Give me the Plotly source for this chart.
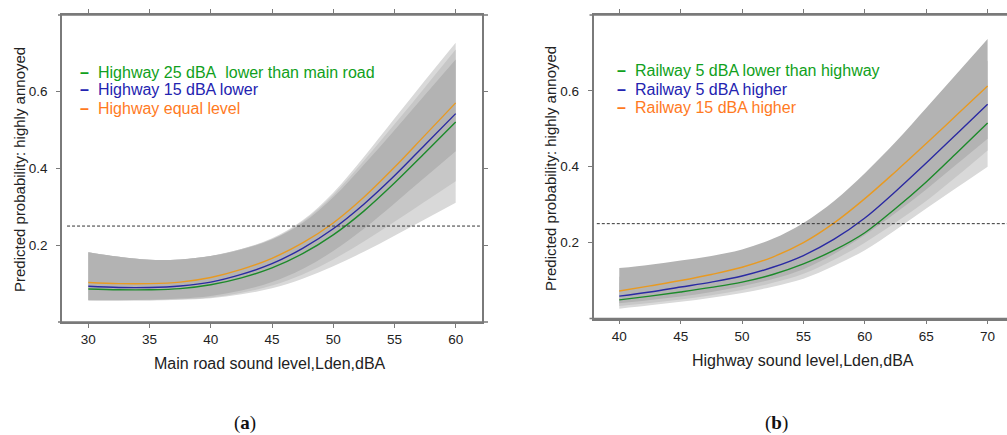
import plotly.graph_objects as go

W, H = 1007, 435

# ---------------- panel (a): main road level ----------------
x_a = [30, 32.5, 35, 37.5, 40, 42.5, 45, 47.5, 50, 52.5, 55, 57.5, 60]
a_equal = [0.103, 0.100, 0.100, 0.104, 0.116, 0.137, 0.166, 0.206, 0.258, 0.325, 0.403, 0.487, 0.571]
a_15lower = [0.093, 0.090, 0.090, 0.094, 0.104, 0.124, 0.152, 0.192, 0.243, 0.307, 0.381, 0.462, 0.543]
a_25lower = [0.086, 0.084, 0.084, 0.087, 0.097, 0.115, 0.141, 0.178, 0.227, 0.289, 0.362, 0.441, 0.521]

a_25lower_lo = [0.057, 0.056, 0.056, 0.058, 0.062, 0.072, 0.088, 0.113, 0.145, 0.183, 0.225, 0.268, 0.311]
a_25lower_hi = [0.182, 0.170, 0.162, 0.163, 0.172, 0.190, 0.218, 0.265, 0.337, 0.430, 0.530, 0.630, 0.728]
a_15lower_lo = [0.057, 0.057, 0.057, 0.059, 0.064, 0.076, 0.095, 0.124, 0.163, 0.210, 0.261, 0.314, 0.367]
a_15lower_hi = [0.182, 0.170, 0.162, 0.163, 0.172, 0.190, 0.216, 0.262, 0.331, 0.420, 0.515, 0.612, 0.710]
a_equal_lo = [0.057, 0.057, 0.058, 0.061, 0.068, 0.082, 0.104, 0.138, 0.185, 0.243, 0.309, 0.377, 0.445]
a_equal_hi = [0.182, 0.170, 0.162, 0.163, 0.172, 0.189, 0.215, 0.258, 0.325, 0.410, 0.500, 0.592, 0.684]

# ---------------- panel (b): highway level ----------------
x_b = [40, 42.5, 45, 47.5, 50, 52.5, 55, 57.5, 60, 62.5, 65, 67.5, 70]
b_rail15higher = [0.0725, 0.086, 0.100, 0.116, 0.135, 0.162, 0.200, 0.252, 0.316, 0.387, 0.461, 0.537, 0.613]
b_rail5higher = [0.059, 0.070, 0.083, 0.096, 0.112, 0.135, 0.166, 0.209, 0.265, 0.335, 0.410, 0.487, 0.565]
b_rail5lower = [0.049, 0.059, 0.070, 0.082, 0.096, 0.116, 0.144, 0.180, 0.226, 0.290, 0.360, 0.437, 0.515]

b_rail5lower_lo = [0.026, 0.035, 0.044, 0.055, 0.067, 0.084, 0.105, 0.139, 0.180, 0.233, 0.290, 0.345, 0.400]
b_rail5lower_hi = [0.095, 0.103, 0.110, 0.122, 0.138, 0.160, 0.192, 0.238, 0.295, 0.370, 0.455, 0.542, 0.630]
b_rail5higher_lo = [0.033, 0.041, 0.050, 0.061, 0.075, 0.094, 0.118, 0.155, 0.200, 0.253, 0.310, 0.375, 0.443]
b_rail5higher_hi = [0.110, 0.120, 0.130, 0.142, 0.158, 0.182, 0.218, 0.270, 0.335, 0.415, 0.500, 0.590, 0.680]
b_rail15higher_lo = [0.040, 0.049, 0.058, 0.070, 0.085, 0.104, 0.130, 0.170, 0.220, 0.278, 0.340, 0.407, 0.474]
b_rail15higher_hi = [0.133, 0.142, 0.153, 0.165, 0.182, 0.210, 0.252, 0.310, 0.383, 0.465, 0.555, 0.646, 0.737]

legend_a = ["Highway 25 dBA\u00a0\u00a0lower than main road", "Highway 15 dBA lower", "Highway equal level"]
legend_b = ["Railway 5 dBA lower than highway", "Railway 5 dBA higher", "Railway 15 dBA higher"]
threshold = 0.25

LINE_COLORS = ["#1c8a2a", "#2a2aa3", "#e89a22"]
TEXT_COLORS = ["#10a020", "#2323b0", "#ff7a1e"]
BAND_COLORS = ["#d9d9d9", "#c7c7c7", "#b3b3b3"]
AXIS_COLOR = "#7a7a7a"
FONT = "Liberation Sans, Arial, sans-serif"

fig = go.Figure()


def add_band(x, lo, hi, color, xa, ya):
    fig.add_trace(go.Scatter(x=x, y=lo, mode="lines", line=dict(width=0, shape="spline", color=color),
                             xaxis=xa, yaxis=ya, showlegend=False, hoverinfo="skip"))
    fig.add_trace(go.Scatter(x=x, y=hi, mode="lines", line=dict(width=0, shape="spline", color=color),
                             fill="tonexty", fillcolor=color, xaxis=xa, yaxis=ya,
                             showlegend=False, hoverinfo="skip"))


def add_line(x, y, color, xa, ya):
    fig.add_trace(go.Scatter(x=x, y=y, mode="lines", line=dict(width=1.4, shape="spline", color=color),
                             xaxis=xa, yaxis=ya, showlegend=False))


# bands: widest (lightest) underneath, narrowest (darkest) on top
add_band(x_a, a_25lower_lo, a_25lower_hi, BAND_COLORS[0], "x", "y")
add_band(x_a, a_15lower_lo, a_15lower_hi, BAND_COLORS[1], "x", "y")
add_band(x_a, a_equal_lo, a_equal_hi, BAND_COLORS[2], "x", "y")
add_line(x_a, a_equal, LINE_COLORS[2], "x", "y")
add_line(x_a, a_15lower, LINE_COLORS[1], "x", "y")
add_line(x_a, a_25lower, LINE_COLORS[0], "x", "y")

add_band(x_b, b_rail5lower_lo, b_rail5lower_hi, BAND_COLORS[0], "x2", "y2")
add_band(x_b, b_rail5higher_lo, b_rail5higher_hi, BAND_COLORS[1], "x2", "y2")
add_band(x_b, b_rail15higher_lo, b_rail15higher_hi, BAND_COLORS[2], "x2", "y2")
add_line(x_b, b_rail15higher, LINE_COLORS[2], "x2", "y2")
add_line(x_b, b_rail5higher, LINE_COLORS[1], "x2", "y2")
add_line(x_b, b_rail5lower, LINE_COLORS[0], "x2", "y2")


def px_x(p):
    return p / W


def px_y(p):
    return 1 - p / H


# plot areas in pixels
A_L, A_R, A_T, A_B = 62, 482, 15, 322
B_L, B_R, B_T, B_B = 593.5, 1007, 15, 318.5

axis_common = dict(showgrid=False, zeroline=False, showline=True, linecolor=AXIS_COLOR, linewidth=1.6,
                   ticks="outside", ticklen=4, tickwidth=1.2, tickcolor=AXIS_COLOR,
                   tickfont=dict(family=FONT, size=13.5, color="#222"))

fig.update_layout(
    width=W, height=H, margin=dict(l=0, r=0, t=0, b=0),
    paper_bgcolor="white", plot_bgcolor="white", showlegend=False,
    xaxis=dict(domain=[px_x(A_L), px_x(A_R)], range=[27.85, 62.15], tickvals=[30, 35, 40, 45, 50, 55, 60],
               mirror="ticks", anchor="y", **axis_common),
    yaxis=dict(domain=[px_y(A_B), px_y(A_T)], range=[0, 0.8], tickvals=[0.2, 0.4, 0.6],
               ticktext=["0.2", "0.4", "0.6"], mirror="ticks", anchor="x", ticklabelstandoff=6,
               **axis_common),
    xaxis2=dict(domain=[px_x(B_L), 1.0], range=[37.9, 71.58], tickvals=[40, 45, 50, 55, 60, 65, 70],
                mirror="ticks", anchor="y2", **axis_common),
    yaxis2=dict(domain=[px_y(B_B), px_y(B_T)], range=[0, 0.8], tickvals=[0.2, 0.4, 0.6],
                ticktext=["0.2", "0.4", "0.6"], mirror=False, anchor="x2", ticklabelstandoff=6,
                **axis_common),
)

shapes = []
# 0.25 reference line
shapes.append(dict(type="line", xref="x domain", yref="y", x0=0.012, x1=0.995, y0=threshold, y1=threshold,
                   line=dict(color="#333", width=1, dash="3px,2px")))
shapes.append(dict(type="line", xref="x2 domain", yref="y2", x0=0.008, x1=1.0, y0=threshold, y1=threshold,
                   line=dict(color="#333", width=1, dash="3px,2px")))
# horizontal frame lines running slightly past the vertical spines
for (l, r, t, b) in [(A_L, A_R, A_T, A_B), (B_L, B_R, B_T, B_B)]:
    for yy in (t, b):
        shapes.append(dict(type="line", xref="paper", yref="paper", x0=px_x(l - 4), x1=px_x(min(r + 6, W)),
                           y0=px_y(yy), y1=px_y(yy), line=dict(color=AXIS_COLOR, width=1.6)))
fig.update_layout(shapes=shapes)

ann = []
# legends
for labels, dash_x, text_x, rows in [(legend_a, 84, 96, [72, 90, 108]), (legend_b, 621, 633, [71, 89, 107])]:
    for lab, col, yy in zip(labels, TEXT_COLORS, rows):
        ann.append(dict(xref="paper", yref="paper", x=px_x(dash_x), y=px_y(yy), text="<b>\u2013</b>",
                        showarrow=False, xanchor="center", yanchor="middle",
                        font=dict(family=FONT, size=16, color=col)))
        ann.append(dict(xref="paper", yref="paper", x=px_x(text_x), y=px_y(yy), text=lab,
                        showarrow=False, xanchor="left", yanchor="middle",
                        font=dict(family=FONT, size=16, color=col)))

# axis titles
ytitle = "Predicted probability: highly annoyed"
ann.append(dict(xref="paper", yref="paper", x=px_x(20), y=px_y(170), text=ytitle, textangle=-90,
                showarrow=False, xanchor="center", yanchor="middle", font=dict(family=FONT, size=15, color="#222")))
ann.append(dict(xref="paper", yref="paper", x=px_x(550), y=px_y(169), text=ytitle, textangle=-90,
                showarrow=False, xanchor="center", yanchor="middle", font=dict(family=FONT, size=15, color="#222")))
ann.append(dict(xref="paper", yref="paper", x=px_x(270), y=px_y(363), text="Main road sound level,Lden,dBA",
                showarrow=False, xanchor="center", yanchor="middle", font=dict(family=FONT, size=16, color="#222")))
ann.append(dict(xref="paper", yref="paper", x=px_x(803), y=px_y(360), text="Highway sound level,Lden,dBA",
                showarrow=False, xanchor="center", yanchor="middle", font=dict(family=FONT, size=16, color="#222")))
# panel tags
ann.append(dict(xref="paper", yref="paper", x=px_x(245), y=px_y(423), text="(<b>a</b>)",
                showarrow=False, xanchor="center", yanchor="middle",
                font=dict(family="Liberation Serif, DejaVu Serif, serif", size=19, color="#111")))
ann.append(dict(xref="paper", yref="paper", x=px_x(776), y=px_y(423), text="(<b>b</b>)",
                showarrow=False, xanchor="center", yanchor="middle",
                font=dict(family="Liberation Serif, DejaVu Serif, serif", size=19, color="#111")))
fig.update_layout(annotations=ann)

fig.write_html("out.html")
